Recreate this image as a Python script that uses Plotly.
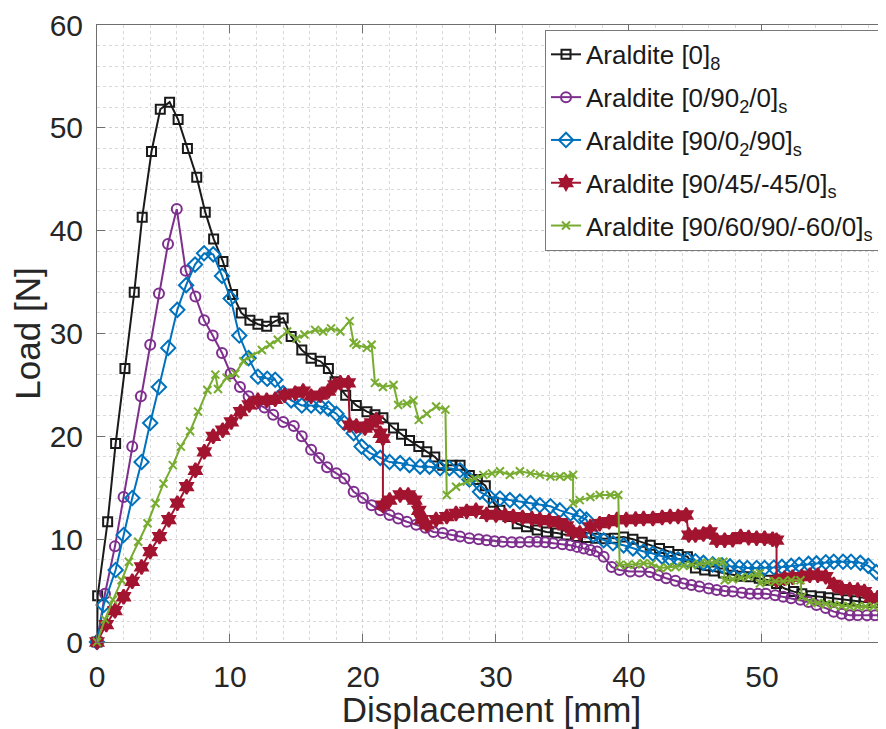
import plotly.graph_objects as go

# ---------------- data ----------------
black_x = [0, 0.05, 0.8, 1.4, 2.1, 2.8, 3.4, 4.1, 4.76, 5.46,
           6.1, 6.8, 7.5, 8.14, 8.77, 9.47, 10.2, 10.85, 11.5, 12.1,
           12.76, 13.4, 14.0, 14.6, 15.4, 16.1, 16.8, 17.4, 17.9, 18.7,
           19.5, 20.3, 20.9, 21.5, 22.3, 22.9, 23.5, 24.2, 24.8, 25.4,
           26.0, 26.7, 27.3, 28.0, 28.6, 29.2, 29.8, 30.3, 30.9, 31.6,
           32.3, 33.1, 33.8, 34.6, 35.3, 36.1, 36.8, 37.5, 38.2, 38.9,
           39.6, 40.3, 41.0, 41.6, 42.3, 43.0, 43.7, 44.4, 45.0, 45.7,
           46.4, 47.1, 47.8, 48.4, 49.1, 49.8, 50.5, 51.1, 51.7, 52.4,
           53.0, 53.7, 54.4, 55.0, 55.7, 56.4, 57.0, 57.7, 58.4, 59.1]
black_y = [0, 4.5, 11.7, 19.3, 26.6, 34.0, 41.3, 47.7, 51.8, 52.5,
           50.8, 48.0, 45.2, 41.8, 39.2, 37.0, 33.8, 32.0, 31.3, 30.9,
           30.7, 31.2, 31.5, 29.7, 28.4, 27.6, 27.3, 26.6, 25.3, 24.0,
           23.0, 22.4, 22.1, 21.8, 20.8, 20.2, 19.6, 19.0, 18.5, 18.0,
           17.2, 17.2, 17.2, 16.2, 15.8, 15.2, 13.6, 12.8, 12.2, 11.5,
           11.2, 10.9, 10.7, 10.6, 10.4, 10.25, 10.15, 10.1, 10.05, 10.1,
           10.2, 10.0, 9.7, 9.4, 9.1, 8.8, 8.5, 8.3, 7.2, 7.0,
           6.9, 6.7, 6.5, 6.4, 6.35, 6.2, 6.0, 5.7, 5.2, 4.9,
           4.7, 4.5, 4.4, 4.3, 4.2, 4.1, 4.0, 3.9, 3.85, 3.8]

purple_x = [0, 0.6, 1.35, 2.0, 2.65, 3.3, 4.0, 4.66, 5.34, 6.0,
            6.67, 7.4, 8.05, 8.7, 9.4, 10.05, 10.75, 11.4, 12.0, 12.6,
            13.25, 14.0, 14.8, 15.4, 16.1, 16.7, 17.3, 18.0, 18.6, 19.3,
            20.0, 20.65, 21.3, 22.0, 22.65, 23.3, 24.0, 24.7, 25.3, 26.0,
            26.7, 27.3, 28.0, 28.7, 29.3, 29.9, 30.5, 31.2, 31.8, 32.5,
            33.1, 33.7, 34.3, 35.0, 35.6, 36.1, 36.6, 37.1, 37.6, 38.1,
            38.7, 39.3, 40.1, 40.8, 41.6, 42.2, 42.8, 43.5, 44.1, 44.7,
            45.3, 46.0, 46.6, 47.2, 47.8, 48.5, 49.1, 49.7, 50.3, 51.0,
            51.6, 52.2, 52.9, 53.5, 54.1, 54.8, 55.4, 56.0, 56.6, 57.2,
            57.9, 58.5, 59.1]
purple_y = [0, 4.7, 9.3, 14.1, 19.0, 23.9, 28.9, 33.9, 38.7, 42.1,
            36.1, 33.6, 31.3, 29.8, 28.1, 26.1, 24.8, 23.9, 23.2, 22.8,
            22.1, 21.4, 21.0, 20.0, 18.7, 17.9, 17.0, 16.4, 15.9, 14.6,
            14.0, 13.3, 12.8, 12.35, 12.0, 11.7, 11.4, 11.1, 10.7, 10.6,
            10.4, 10.25, 10.1, 10.0, 9.9, 9.8, 9.75, 9.7, 9.7, 9.75,
            9.75, 9.7, 9.6, 9.5, 9.4, 9.25, 9.1, 8.95, 8.8, 8.3,
            7.3, 7.0, 6.85, 6.85, 6.8, 6.5, 6.2, 5.95, 5.7, 5.55,
            5.4, 5.2, 5.05, 4.95, 4.9, 4.8, 4.7, 4.7, 4.7, 4.55,
            4.4, 4.25, 4.1, 3.9, 3.6, 3.3, 2.95, 2.75, 2.6, 2.6,
            2.6, 2.6, 2.6]

blue_x = [0, 0.5, 1.4, 2.0, 2.65, 3.35, 4.0, 4.66, 5.36, 6.04,
          6.7, 7.37, 8.05, 8.74, 9.4, 10.05, 10.7, 11.4, 12.1, 12.8,
          13.4, 14.0, 14.6, 15.4, 16.1, 16.8, 17.4, 18.0, 18.6, 19.3,
          19.9, 20.5, 21.3, 22.0, 22.8, 23.5, 24.3, 25.0, 25.8, 26.5,
          27.3, 28.0, 28.8, 29.5, 30.3, 31.05, 31.8, 32.6, 33.3, 34.1,
          34.8, 35.6, 36.3, 36.8, 37.3, 38.1, 38.8, 39.6, 40.3, 41.1,
          41.8, 42.5, 43.1, 43.7, 44.4, 45.0, 45.6, 46.3, 47.0, 47.6,
          48.3, 48.9, 49.6, 50.2, 50.9, 51.5, 52.2, 52.8, 53.5, 54.1,
          54.8, 55.4, 56.1, 56.7, 57.4, 58.0, 58.6, 59.3]
blue_y = [0, 3.6, 7.0, 10.4, 14.0, 17.5, 21.3, 24.8, 28.6, 32.3,
          34.7, 36.7, 37.8, 37.7, 35.6, 33.4, 29.8, 27.6, 25.8, 25.6,
          25.5, 24.2, 23.5, 23.0, 23.0, 22.9, 22.7, 22.2, 21.3, 20.3,
          19.0, 18.4, 17.9, 17.5, 17.4, 17.2, 17.05, 17.05, 16.9, 16.9,
          16.7, 15.8, 14.6, 14.1, 13.95, 13.8, 13.65, 13.5, 13.3, 13.2,
          12.8, 12.5, 12.2, 11.9, 10.4, 9.9, 9.6, 9.4, 9.1, 8.8,
          8.6, 8.3, 8.1, 8.05, 8.0, 7.85, 7.7, 7.55, 7.45, 7.35,
          7.25, 7.2, 7.2, 7.2, 7.25, 7.3, 7.4, 7.5, 7.6, 7.65,
          7.75, 7.8, 7.8, 7.8, 7.7, 7.4, 6.8, 6.0]

red_x = [0, 0.7, 1.35, 2.0, 2.65, 3.35, 4.0, 4.7, 5.4, 6.04,
         6.74, 7.4, 8.07, 8.74, 9.45, 10.1, 10.8, 11.45, 12.1, 12.76,
         13.4, 14.1, 14.9, 15.5, 16.1, 16.8, 17.4, 17.9, 18.3, 18.9,
         19.0, 19.5, 20.15, 20.65, 21.0, 21.3, 21.5, 21.5, 22.0, 22.8,
         23.4, 23.9, 24.2, 24.4, 24.8, 25.5, 26.3, 27.0, 27.8, 28.5,
         29.3, 30.0, 30.7, 31.3, 32.0, 32.7, 33.3, 34.0, 34.7, 35.3,
         35.8, 36.3, 37.1, 37.8, 38.5, 39.1, 39.8, 40.5, 41.1, 41.8,
         42.5, 43.1, 43.7, 44.3, 44.5, 45.0, 45.6, 46.1, 46.6, 47.2,
         47.8, 48.4, 49.0, 49.6, 50.2, 50.8, 51.1, 51.1, 51.7, 52.3,
         53.0, 53.6, 54.2, 54.8, 55.4, 56.0, 56.6, 57.2, 57.7, 58.2,
         58.7, 59.2]
red_y = [0, 1.7, 3.05, 4.4, 5.9, 7.3, 8.8, 10.25, 11.9, 13.5,
         15.1, 16.7, 18.5, 20.0, 20.6, 21.4, 22.4, 23.05, 23.5, 23.5,
         23.6, 24.0, 24.2, 24.4, 23.9, 24.0, 24.4, 25.0, 25.2, 25.2,
         21.1, 21.0, 20.8, 21.3, 21.6, 20.3, 19.8, 13.3, 13.8, 14.3,
         14.3, 13.8, 12.8, 11.9, 11.4, 11.9, 12.2, 12.5, 12.7, 12.8,
         12.4, 12.35, 12.3, 12.2, 12.1, 12.0, 11.9, 11.8, 11.6, 11.3,
         10.7, 10.6, 11.2, 11.5, 11.7, 11.9, 11.9, 11.95, 12.0, 12.0,
         12.1, 12.2, 12.2, 12.35, 10.4, 10.4, 10.5, 10.7, 9.9, 9.9,
         9.95, 10.25, 10.15, 10.1, 10.1, 10.0, 9.9, 6.0, 6.2, 6.3,
         6.35, 6.5, 6.5, 6.35, 5.6, 5.2, 5.1, 5.05, 4.9, 4.3,
         4.3, 4.4]

green_x = [0, 0.6, 1.2, 1.85, 2.4, 3.1, 3.8, 4.4, 5.0, 5.7,
           6.3, 7.0, 7.6, 8.3, 8.9, 9.1, 9.75, 10.4, 11.0, 11.6,
           12.4, 13.0, 13.6, 14.3, 15.0, 15.6, 16.4, 17.0, 17.6, 18.3,
           19.0, 19.3, 19.5, 20.3, 20.65, 20.9, 21.5, 22.3, 22.65, 23.3,
           23.8, 24.2, 24.8, 25.5, 26.2, 26.3, 27.0, 27.8, 28.4, 29.05,
           29.7, 30.3, 31.05, 31.8, 32.6, 33.3, 34.1, 34.8, 35.4, 35.8,
           35.8, 36.3, 37.1, 37.8, 38.6, 39.2, 39.3, 39.9, 40.5, 41.1,
           41.7, 42.3, 42.9, 43.5, 44.1, 44.7, 45.3, 45.9, 46.5, 47.1,
           47.2, 47.8, 48.4, 49.0, 49.6, 49.85, 49.85, 50.4, 51.0, 51.6,
           52.2, 52.9, 53.0, 53.6, 54.2, 54.8, 55.4, 56.0, 56.6, 57.2,
           57.8, 58.4, 59.0]
green_y = [0, 2.2, 4.1, 6.0, 7.8, 9.75, 11.55, 13.5, 15.4, 17.2,
           19.0, 20.5, 22.4, 24.5, 26.0, 24.6, 25.7, 26.1, 27.3, 27.8,
           28.4, 28.9, 29.4, 30.2, 29.5, 29.9, 30.35, 30.2, 30.5, 30.2,
           31.2, 29.1, 28.9, 28.6, 28.9, 25.2, 24.8, 25.0, 23.05, 23.2,
           23.5, 21.6, 22.2, 22.9, 22.6, 14.3, 15.1, 15.6, 15.9, 16.25,
           16.4, 16.6, 16.25, 16.6, 16.4, 16.25, 16.1, 16.1, 16.1, 16.25,
           13.5, 13.8, 14.1, 14.3, 14.3, 14.3, 7.5, 7.5, 7.55, 7.65,
           7.6, 7.2, 7.25, 7.3, 7.4, 7.5, 7.6, 7.7, 7.8, 7.8,
           6.0, 6.1, 6.25, 6.35, 6.6, 6.7, 5.7, 5.85, 5.9, 5.9,
           6.0, 6.0, 4.4, 3.9, 3.8, 3.7, 3.6, 3.5, 3.45, 3.45,
           3.45, 3.45, 3.45]

PAD = "\u00a0"
names = ["Araldite [0]<sub>8</sub>",
         "Araldite [0/90<sub>2</sub>/0]<sub>s</sub>",
         "Araldite [90/0<sub>2</sub>/90]<sub>s</sub>",
         "Araldite [90/45/-45/0]<sub>s</sub>",
         "Araldite [90/60/90/-60/0]<sub>s</sub>" + PAD]

x_ticks = [0, 10, 20, 30, 40, 50]
y_ticks = [0, 10, 20, 30, 40, 50, 60]

# ---------------- figure ----------------
series = [
    (black_x, black_y, "#1a1a1a", "square-open", 9),
    (purple_x, purple_y, "#7E2F8E", "circle-open", 10),
    (blue_x, blue_y, "#0072BD", "diamond-open", 11),
    (red_x, red_y, "#A2142F", "hexagram", 11),
    (green_x, green_y, "#77AC30", "x-thin-open", 8),
]

fig = go.Figure()
for i, (xs, ys, col, sym, sz) in enumerate(series):
    fig.add_trace(go.Scatter(
        x=xs, y=ys, mode="lines+markers", name=names[i],
        legendgroup=f"g{i}", cliponaxis=False,
        line=dict(color=col, width=2),
        marker=dict(symbol=sym, size=sz, color=col,
                    line=dict(color=col, width=2)),
    ))

axis_common = dict(
    showline=True, linecolor="#6e6e6e", linewidth=1, mirror="ticks",
    ticks="inside", ticklen=8, tickcolor="#6e6e6e", tickwidth=1,
    showgrid=True, gridcolor="#cfcfcf", griddash="dot", gridwidth=1,
    zeroline=False, automargin=False,
    tickfont=dict(size=30, color="#262626"),
    minor=dict(dtick=2, showgrid=True, gridcolor="#d9d9d9",
               griddash="dot", gridwidth=1, ticks=""),
)

fig.update_xaxes(range=[0, 59.33], tickvals=x_ticks, ticklabelstandoff=8,
                 title=dict(text="Displacement [mm]", font=dict(size=35, color="#262626"),
                            standoff=6),
                 **axis_common)
fig.update_yaxes(range=[0, 60], tickvals=y_ticks, ticklabelstandoff=7,
                 title=dict(text="Load [N]", font=dict(size=35, color="#262626"),
                            standoff=2),
                 **axis_common)

# the page body adds an 8px offset, so the figure is sized/margined to compensate
fig.update_layout(
    width=878, height=721,
    margin=dict(l=89, r=0, t=17, b=87, autoexpand=False),
    plot_bgcolor="white", paper_bgcolor="white",
    font=dict(family="Liberation Sans, Arial, sans-serif", color="#262626"),
    legend=dict(x=1, xanchor="right", y=0.992, yanchor="top",
                bgcolor="white", bordercolor="#7a7a7a", borderwidth=1,
                font=dict(size=26, color="#1a1a1a"),
                tracegroupgap=6, itemwidth=30),
    showlegend=True,
)

fig.write_html("out.html")
